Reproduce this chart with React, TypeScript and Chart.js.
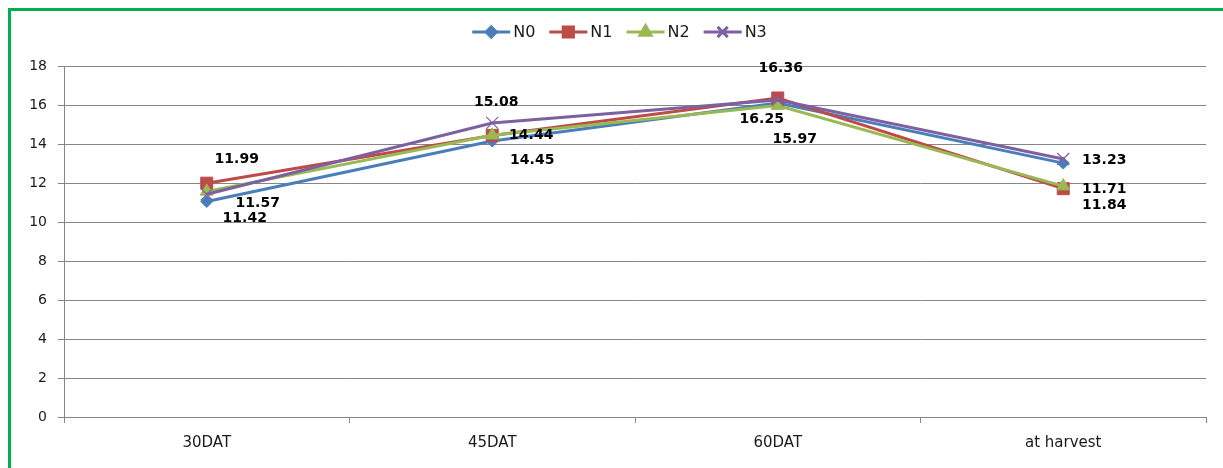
import React, { useEffect, useRef } from "react";
import { Chart, registerables } from "chart.js";
import { drawPoint } from "chart.js/helpers";

Chart.register(...registerables);

// Sampling stages on the x axis
const categories = ["30DAT", "45DAT", "60DAT", "at harvest"];

// Series values per nitrogen level
const n0 = [11.05, 14.15, 16.1, 13.02];
const n1 = [11.99, 14.44, 16.36, 11.71];
const n2 = [11.57, 14.45, 15.97, 11.84];
const n3 = [11.42, 15.08, 16.25, 13.23];

// Value axis range
const yMin = 0;
const yMax = 18;
const yStep = 2;

// Placement of value labels relative to their point (dx, dy); null = no label
const labelOffsetsN0: ([number, number] | null)[] = [null, null, null, null];
const labelOffsetsN1: ([number, number] | null)[] = [[30, -24], [39, 0], [3, -30], [41, 1]];
const labelOffsetsN2: ([number, number] | null)[] = [[51, 12], [40, 25], [17, 34], [41, 19]];
const labelOffsetsN3: ([number, number] | null)[] = [[38, 24], [4, -21], [-16, 19], [41, 1]];

const W = 1223;
const H = 468;
const FONT = "'DejaVu Sans', sans-serif";

const valueLabels = {
  id: "valueLabels",
  afterDatasetsDraw(chart: any) {
    const ctx = chart.ctx;
    ctx.save();
    ctx.font = `bold 14px ${FONT}`;
    ctx.fillStyle = "#000";
    ctx.textAlign = "center";
    ctx.textBaseline = "middle";
    chart.data.datasets.forEach((ds: any, di: number) => {
      const offs = ds.labelOffsets as ([number, number] | null)[];
      if (!offs) return;
      const meta = chart.getDatasetMeta(di);
      meta.data.forEach((pt: any, i: number) => {
        const o = offs[i];
        if (!o) return;
        ctx.fillText(Number(ds.data[i]).toFixed(2), pt.x + o[0], pt.y + o[1]);
      });
    });
    ctx.restore();
  },
};

const lineLegend = {
  id: "lineLegend",
  afterDraw(chart: any) {
    const ctx = chart.ctx;
    ctx.save();
    ctx.font = `16px ${FONT}`;
    const lineLen = 38;
    const textGap = 3;
    const itemGap = 14;
    const items = chart.data.datasets.map((ds: any) => ({
      ds,
      tw: ctx.measureText(ds.label).width,
    }));
    const total =
      items.reduce((s: number, it: any) => s + lineLen + textGap + it.tw, 0) +
      itemGap * (items.length - 1);
    let x = chart.width / 2 + 8 - total / 2;
    const y = 32;
    items.forEach((it: any) => {
      const ds = it.ds;
      ctx.strokeStyle = ds.borderColor;
      ctx.lineWidth = 3;
      ctx.beginPath();
      ctx.moveTo(x, y);
      ctx.lineTo(x + lineLen, y);
      ctx.stroke();
      ctx.fillStyle = ds.pointBackgroundColor;
      ctx.strokeStyle = ds.pointBorderColor;
      drawPoint(ctx, {
        pointStyle: ds.pointStyle,
        radius: ds.pointRadius * 0.85,
        borderWidth: ds.pointBorderWidth,
        rotation: 0,
      } as any, x + lineLen / 2, y);
      ctx.fillStyle = "#1a1a1a";
      ctx.textAlign = "left";
      ctx.textBaseline = "middle";
      ctx.fillText(ds.label, x + lineLen + textGap, y + 1);
      x += lineLen + textGap + it.tw + itemGap;
    });
    ctx.restore();
  },
};

function series(
  label: string,
  data: number[],
  color: string,
  pointStyle: string,
  radius: number,
  order: number,
  labelOffsets: ([number, number] | null)[],
  pointBorderWidth = 1
) {
  return {
    label,
    data,
    borderColor: color,
    backgroundColor: color,
    borderWidth: 3,
    tension: 0,
    pointStyle,
    pointRadius: radius,
    pointHoverRadius: radius,
    pointBackgroundColor: color,
    pointBorderColor: color,
    pointBorderWidth,
    order,
    labelOffsets,
  };
}

export default function App() {
  const ref = useRef<HTMLCanvasElement>(null);

  useEffect(() => {
    if (!ref.current) return;
    const chart = new Chart(ref.current, {
      type: "line",
      data: {
        labels: categories,
        datasets: [
          series("N0", n0, "#4A7EBB", "rectRot", 6, 3, labelOffsetsN0),
          series("N1", n1, "#BE4B48", "rect", 8.5, 2, labelOffsetsN1),
          series("N2", n2, "#98B954", "triangle", 7.5, 1, labelOffsetsN2),
          series("N3", n3, "#7D60A0", "crossRot", 8.5, 0, labelOffsetsN3, 1.2),
        ] as any,
      },
      options: {
        responsive: false,
        animation: false,
        layout: { padding: { left: 0, top: 66, right: 17, bottom: 0 } },
        plugins: {
          legend: { display: false },
          tooltip: { enabled: false },
        },
        scales: {
          x: {
            type: "category",
            offset: true,
            grid: {
              display: true,
              drawOnChartArea: false,
              drawTicks: true,
              tickLength: 6,
              color: "#868686",
              offset: true,
            },
            border: { color: "#868686" },
            ticks: {
              font: { family: FONT, size: 15 },
              color: "#1a1a1a",
              padding: 11,
              maxRotation: 0,
            },
            afterFit: (s: any) => {
              s.height = 51;
            },
          },
          y: {
            min: yMin,
            max: yMax,
            ticks: {
              stepSize: yStep,
              font: { family: FONT, size: 14 },
              color: "#1a1a1a",
              padding: 11,
            },
            grid: {
              color: "#868686",
              drawTicks: true,
              tickLength: 6,
            },
            border: { color: "#868686" },
            afterFit: (s: any) => {
              s.width = 64;
            },
          },
        },
      },
      plugins: [valueLabels, lineLegend],
    });
    return () => chart.destroy();
  }, []);

  return (
    <div>
      {/* green frame running off the right and bottom edges */}
      <div
        style={{
          position: "fixed",
          left: 8,
          top: 8,
          width: W + 100,
          height: H + 100,
          boxSizing: "border-box",
          borderTop: "3px solid #00B050",
          borderLeft: "3px solid #00B050",
        }}
      />
      <canvas
        ref={ref}
        width={W}
        height={H}
        style={{ position: "fixed", left: 0, top: 0, width: W, height: H }}
      />
    </div>
  );
}
